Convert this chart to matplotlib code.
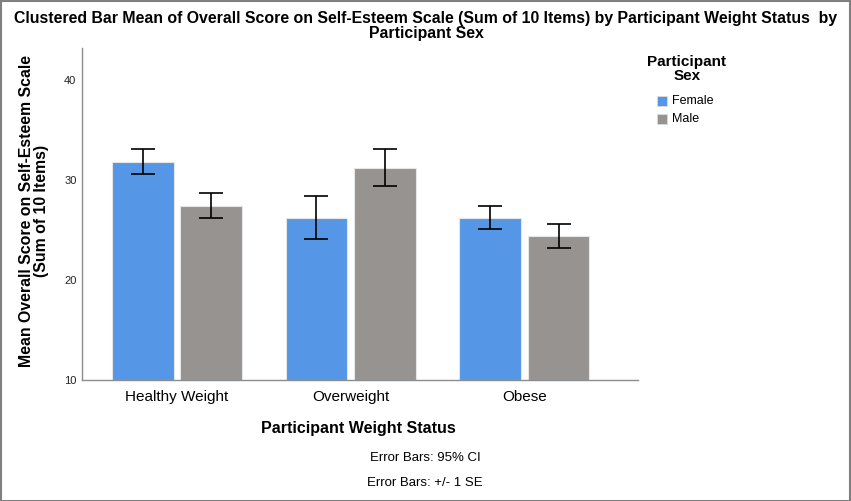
import matplotlib
matplotlib.use("Agg")
import matplotlib.pyplot as plt
import numpy as np
from matplotlib.patches import Rectangle

plt.rcParams["font.family"] = ["Liberation Sans", "DejaVu Sans"]

categories = ["Healthy Weight", "Overweight", "Obese"]
sexes = ["Female", "Male"]
means = {
    "Female": [31.8, 26.2, 26.2],
    "Male": [27.4, 31.2, 24.4],
}
ci_low = {
    "Female": [30.6, 24.1, 25.1],
    "Male": [26.2, 29.4, 23.2],
}
ci_high = {
    "Female": [33.1, 28.4, 27.4],
    "Male": [28.7, 33.1, 25.6],
}
colors = {"Female": "#5596e6", "Male": "#969391"}

fig = plt.figure(figsize=(8.51, 5.01), dpi=100)
ax = fig.add_axes([82 / 851, 121 / 501, 556 / 851, 332 / 501])

x = np.arange(len(categories))
width = 0.355
offset = 0.197
for i, s in enumerate(sexes):
    xs = x + (i * 2 - 1) * offset
    m = np.array(means[s])
    lo = m - np.array(ci_low[s])
    hi = np.array(ci_high[s]) - m
    ax.bar(xs, m - 10, width, bottom=10, color=colors[s],
           edgecolor="#e6e6e6", linewidth=0.8, label=s, zorder=2)
    ax.errorbar(xs, m, yerr=[lo, hi], fmt="none", ecolor="black",
                elinewidth=1.2, capsize=8.5, capthick=1.2, zorder=3)

ax.set_xlim(-0.547, 2.654)
ax.set_ylim(10, 43.2)
ax.set_yticks([10, 20, 30, 40])
ax.set_xticks(x)
ax.set_xticklabels(categories, fontsize=11)
ax.tick_params(axis="both", length=0)
ax.tick_params(axis="y", labelsize=8, pad=4, labelcolor="#222222")
ax.tick_params(axis="x", pad=7)
for side in ["top", "right"]:
    ax.spines[side].set_visible(False)
for side in ["left", "bottom"]:
    ax.spines[side].set_color("#8c8c8c")
    ax.spines[side].set_linewidth(1)

fig.text(34 / 851, 1 - 211 / 501,
         "Mean Overall Score on Self-Esteem Scale\n(Sum of 10 Items)",
         rotation=90, ha="center", va="center", fontsize=11.4,
         fontweight="bold", linespacing=0.95)
fig.text(358 / 851, 1 - 428 / 501, "Participant Weight Status",
         ha="center", va="center", fontsize=11.5, fontweight="bold")

fig.text(426 / 851, 1 - 26 / 501,
         "Clustered Bar Mean of Overall Score on Self-Esteem Scale (Sum of 10 Items) by Participant Weight Status  by\nParticipant Sex",
         ha="center", va="center", fontsize=11.4, fontweight="bold", linespacing=1.05)

fig.text(425 / 851, 1 - 458 / 501, "Error Bars: 95% CI",
         ha="center", va="center", fontsize=9.5)
fig.text(425 / 851, 1 - 483 / 501, "Error Bars: +/- 1 SE",
         ha="center", va="center", fontsize=9.5)

# legend
fig.text(687 / 851, 1 - 69 / 501, "Participant\nSex", ha="center", va="center",
         fontsize=11, fontweight="bold", linespacing=1.05)
for j, s in enumerate(sexes):
    yc = 101 + j * 18
    fig.patches.append(Rectangle((657 / 851, 1 - (yc + 5) / 501), 10 / 851, 10 / 501,
                                 transform=fig.transFigure, facecolor=colors[s],
                                 edgecolor="#dcdcdc", linewidth=0.6))
    fig.text(672 / 851, 1 - yc / 501, s, ha="left", va="center", fontsize=9)

# outer frame
fig.patches.append(Rectangle((0.5 / 851, 0.5 / 501), 849.5 / 851, 499.5 / 501,
                             transform=fig.transFigure, fill=False,
                             edgecolor="#7f7f7f", linewidth=1.5))

fig.savefig("out.png", dpi=100)
